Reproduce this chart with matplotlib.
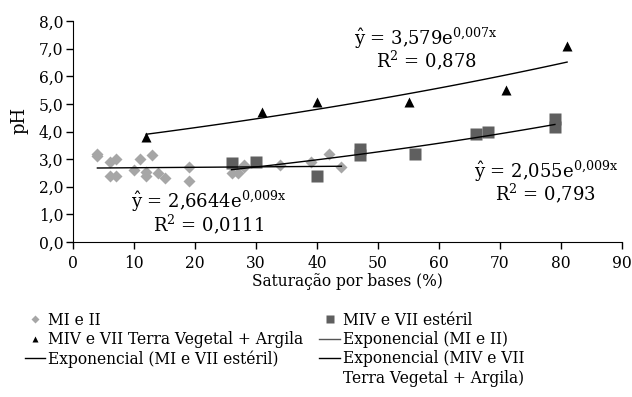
import numpy as np
import matplotlib
matplotlib.use('Agg')
import matplotlib.pyplot as plt
from matplotlib.ticker import FuncFormatter, MultipleLocator
from matplotlib.lines import Line2D

# -----------------------------
# Data
# -----------------------------
mi_x = [4, 4, 6, 6, 7, 7, 10, 11, 12, 12, 13, 14, 15, 19, 19, 26, 27, 28, 28, 34, 39, 42, 44]
mi_y = [3.2, 3.1, 2.9, 2.4, 3.0, 2.4, 2.6, 3.0, 2.55, 2.4, 3.15, 2.5, 2.3, 2.7, 2.2,
        2.5, 2.5, 2.8, 2.7, 2.8, 2.9, 3.2, 2.7]

est_x = [26, 30, 40, 47, 47, 56, 66, 68, 79, 79]
est_y = [2.85, 2.9, 2.4, 3.35, 3.15, 3.2, 3.9, 4.0, 4.45, 4.15]

tva_x = [12, 31, 40, 55, 71, 81]
tva_y = [3.8, 4.7, 5.05, 5.05, 5.5, 7.1]

eq_lines = [
    ("$\\hat{\\mathrm{y}}$ = 2,6644e$^{\\mathrm{0{,}009x}}$", "R$^{\\mathrm{2}}$ = 0,0111"),
    ("$\\hat{\\mathrm{y}}$ = 2,055e$^{\\mathrm{0{,}009x}}$", "R$^{\\mathrm{2}}$ = 0,793"),
    ("$\\hat{\\mathrm{y}}$ = 3,579e$^{\\mathrm{0{,}007x}}$", "R$^{\\mathrm{2}}$ = 0,878"),
]

plt.rcParams['font.family'] = ['DejaVu Serif']
plt.rcParams['mathtext.fontset'] = 'dejavuserif'
plt.rcParams['font.size'] = 11.2

C_MI = "#a6a6a6"
C_EST = "#5f5f5f"
C_TVA = "#000000"


def exp_fit(x, y):
    """Excel-style exponential trend: linear fit of ln(y)."""
    b, ln_a = np.polyfit(np.asarray(x, float), np.log(y), 1)
    xs = np.linspace(min(x), max(x), 100)
    return xs, np.exp(ln_a) * np.exp(b * xs)


fig = plt.figure(figsize=(6.32, 3.97), dpi=100)
ax = fig.add_axes([73 / 632, 1 - 242 / 397, 549 / 632, 221 / 397])

ax.plot(mi_x, mi_y, 'D', color=C_MI, ms=6, mec='none', zorder=3)
ax.plot(est_x, est_y, 's', color=C_EST, ms=8, mec='none', zorder=3)
ax.plot(tva_x, tva_y, '^', color=C_TVA, ms=7, mec='none', zorder=4)

for xs, ys in (exp_fit(mi_x, mi_y), exp_fit(est_x, est_y), exp_fit(tva_x, tva_y)):
    ax.plot(xs, ys, color='black', lw=1, zorder=5)

# equation labels: (x centre, baseline of first line, baseline of second line)
eq_pos = [(22.3, 1.22, 0.40), (77.5, 2.34, 1.52), (57.9, 7.14, 6.32)]
for (l1, l2), (ex, y1, y2) in zip(eq_lines, eq_pos):
    ax.text(ex, y1, l1, ha='center', va='baseline', fontsize=13)
    ax.text(ex, y2, l2, ha='center', va='baseline', fontsize=13)

ax.set_xlim(0, 90)
ax.set_ylim(0, 8)
ax.xaxis.set_major_locator(MultipleLocator(10))
ax.yaxis.set_major_locator(MultipleLocator(1))
ax.yaxis.set_major_formatter(FuncFormatter(lambda v, _: f"{v:.1f}".replace('.', ',')))
ax.tick_params(direction='out', length=5, width=1, pad=2)
ax.tick_params(axis='x', pad=4)
for side in ('top', 'right'):
    ax.spines[side].set_visible(False)
ax.set_xlabel("Saturação por bases (%)", labelpad=1)
ax.set_ylabel("pH", fontsize=13)
ax.yaxis.set_label_coords(-0.082, 0.55)

blank = Line2D([], [], ls='none')
handles = [
    Line2D([], [], marker='D', ls='none', color=C_MI, ms=4.5, mec='none'),
    Line2D([], [], marker='^', ls='none', color=C_TVA, ms=5, mec='none'),
    Line2D([], [], color='black', lw=1),
    blank,
    Line2D([], [], marker='s', ls='none', color=C_EST, ms=6, mec='none'),
    Line2D([], [], color='#555555', lw=1),
    Line2D([], [], color='black', lw=1),
    blank,
]
labels = [
    "MI e II",
    "MIV e VII Terra Vegetal + Argila",
    "Exponencial (MI e VII estéril)",
    "",
    "MIV e VII estéril",
    "Exponencial (MI e II)",
    "Exponencial (MIV e VII",
    "Terra Vegetal + Argila)",
]
fig.legend(handles, labels, ncol=2, loc='upper left', bbox_to_anchor=(0.039, 0.215),
           frameon=False, handlelength=1.3, handletextpad=0.2, columnspacing=1.05,
           labelspacing=0.15, borderpad=0, borderaxespad=0)

fig.savefig("out.png", dpi=100)
plt.close(fig)
